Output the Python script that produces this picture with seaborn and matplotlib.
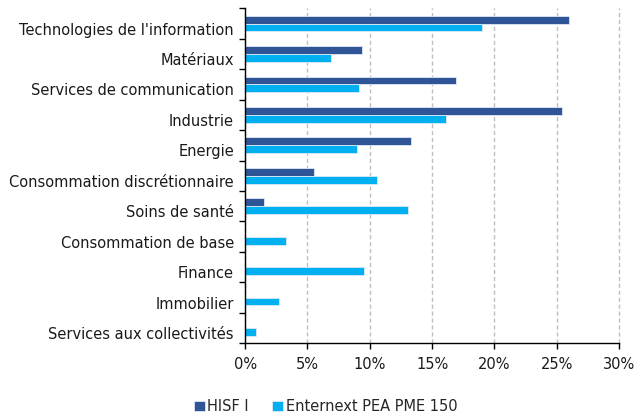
import matplotlib.pyplot as plt
import matplotlib.ticker as mticker
import matplotlib.transforms as mtransforms
import seaborn as sns
import pandas as pd
import numpy as np

sectors = [
    "Technologies de l'information",
    "Matériaux",
    "Services de communication",
    "Industrie",
    "Energie",
    "Consommation discrétionnaire",
    "Soins de santé",
    "Consommation de base",
    "Finance",
    "Immobilier",
    "Services aux collectivités",
]
hisf = [26.0, 9.4, 16.9, 25.4, 13.3, 5.5, 1.5, 0.0, 0.0, 0.0, 0.0]
enternext = [19.0, 6.9, 9.1, 16.1, 9.0, 10.6, 13.1, 3.3, 9.5, 2.7, 0.9]
series = ["HISF I", "Enternext PEA PME 150"]
colors = ["#2F5597", "#00B0F0"]

df = pd.DataFrame({"Secteur": sectors, series[0]: hisf, series[1]: enternext})
df_long = df.melt(id_vars="Secteur", var_name="Série", value_name="Poids")

sns.set_style("white")
plt.rcParams["font.family"] = ["DejaVu Sans"]
plt.rcParams["font.size"] = 10.5

fig = plt.figure(figsize=(6.35, 4.17), dpi=100)
ax = fig.add_axes([0.386, 0.177, 0.589, 0.803])

sns.barplot(data=df_long, y="Secteur", x="Poids", hue="Série", order=sectors,
            hue_order=series, palette=colors, saturation=1, orient="h", width=0.52,
            edgecolor="#dfe8f6", linewidth=0.6, ax=ax)

ax.set_xlim(0, 30)
ax.set_ylim(len(sectors) - 0.5, -0.5)
ax.xaxis.set_major_locator(mticker.MultipleLocator(5))
ax.xaxis.set_major_formatter(mticker.FuncFormatter(lambda v, p: f"{v:.0f}%"))
ax.set_xlabel("")
ax.set_ylabel("")

# ticks at category boundaries like Excel
ax.set_yticks(np.arange(-0.5, len(sectors), 1.0), minor=True)
ax.tick_params(axis="y", which="major", length=0, pad=8, labelcolor="#1a1a1a", labelsize=10.5)
ax.tick_params(axis="y", which="minor", length=4, width=1, direction="out", color="black", left=True)
ax.tick_params(axis="x", which="major", length=4, width=1, direction="out", color="black",
               bottom=True, pad=6, labelcolor="#1a1a1a", labelsize=10.5)

# Excel puts the category labels a little below the centre
offset = mtransforms.ScaledTranslation(0, -5 / 100, fig.dpi_scale_trans)
for lab in ax.get_yticklabels():
    lab.set_transform(lab.get_transform() + offset)

ax.grid(axis="x", which="major", linestyle=(0, (3, 2)), color="#bfbfbf", linewidth=1)
for gl in ax.get_xgridlines():
    gl.set_clip_on(False)
ax.set_axisbelow(True)
for s in ["top", "right"]:
    ax.spines[s].set_visible(False)
for s in ["left", "bottom"]:
    ax.spines[s].set_color("black")
    ax.spines[s].set_linewidth(1)

handles, labels = ax.get_legend_handles_labels()
ax.legend_.remove()
fig.legend(handles, labels, loc="center", bbox_to_anchor=(0.513, 0.025), ncol=2,
           frameon=False, handlelength=0.7, handleheight=0.7, handletextpad=0.2,
           columnspacing=1.6, fontsize=10.5)

fig.savefig("out.png", dpi=100)
